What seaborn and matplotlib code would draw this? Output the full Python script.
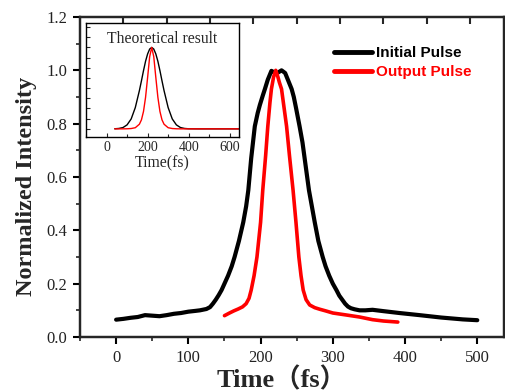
import matplotlib
matplotlib.use("Agg")
import matplotlib.pyplot as plt
import seaborn as sns
import pandas as pd
from matplotlib.ticker import MultipleLocator, FixedLocator
from matplotlib.lines import Line2D

sns.set_theme(style="ticks")
plt.rcParams['font.family'] = ['Liberation Serif', 'Noto Sans CJK SC']

# ---- main data ----
initial_t = [0, 10, 20, 30, 40, 50, 60, 70, 80, 90, 100, 110, 116, 125, 130, 134, 138, 142,
             146, 150, 155, 160, 164, 170, 176, 180, 183, 187, 192, 196, 199, 203, 206, 210,
             215, 222, 229, 234, 237, 240, 243, 246, 249, 254, 258, 261, 264, 267, 271, 275,
             280, 286, 290, 295, 300, 305, 309, 313, 317, 321, 325, 330, 337, 345, 355, 370,
             392, 420, 450, 480, 500]
initial_y = [0.065, 0.068, 0.072, 0.075, 0.082, 0.080, 0.078, 0.082, 0.087, 0.090, 0.095,
             0.098, 0.100, 0.105, 0.112, 0.125, 0.140, 0.157, 0.176, 0.200, 0.230, 0.265,
             0.300, 0.360, 0.430, 0.490, 0.550, 0.670, 0.790, 0.840, 0.870, 0.905, 0.930,
             0.965, 0.998, 0.988, 1.000, 0.990, 0.970, 0.950, 0.930, 0.900, 0.860, 0.790,
             0.730, 0.670, 0.610, 0.550, 0.490, 0.430, 0.360, 0.300, 0.265, 0.230, 0.200,
             0.176, 0.155, 0.140, 0.125, 0.114, 0.108, 0.104, 0.100, 0.100, 0.102, 0.097,
             0.090, 0.082, 0.073, 0.066, 0.063]

output_t = [150, 157, 163, 169, 175, 180, 184, 187, 191, 195, 200, 203, 207, 210, 213, 215,
            218, 221, 224, 226, 229, 232, 236, 240, 245, 249, 253, 256, 259, 263, 268, 275,
            282, 290, 300, 320, 337, 355, 370, 390]
output_y = [0.080, 0.090, 0.098, 0.105, 0.113, 0.125, 0.145, 0.176, 0.230, 0.300, 0.430,
            0.550, 0.680, 0.790, 0.880, 0.930, 0.975, 1.000, 0.975, 0.955, 0.930, 0.870,
            0.790, 0.680, 0.550, 0.430, 0.300, 0.230, 0.176, 0.140, 0.120, 0.110, 0.104,
            0.098, 0.090, 0.082, 0.075, 0.065, 0.060, 0.056]

# ---- inset (theoretical) data ----
theo_t = [40, 60, 80, 100, 120, 140, 160, 170, 180, 190, 200, 210, 220, 230, 240, 250,
          260, 270, 280, 300, 320, 340, 360, 380, 400, 450, 500, 550, 600, 645]
theo_init = [0.001, 0.005, 0.016, 0.049, 0.122, 0.261, 0.470, 0.590, 0.715, 0.830, 0.920,
             0.980, 1.000, 0.980, 0.920, 0.830, 0.715, 0.590, 0.470, 0.261, 0.122, 0.049,
             0.016, 0.005, 0.001, 0.0, 0.0, 0.0, 0.0, 0.0]
theo_out = [0.0, 0.0, 0.0, 0.001, 0.004, 0.014, 0.057, 0.111, 0.214, 0.387, 0.631, 0.886,
            1.000, 0.886, 0.631, 0.387, 0.214, 0.111, 0.057, 0.014, 0.004, 0.001, 0.0,
            0.0, 0.0, 0.0, 0.0, 0.0, 0.0, 0.0]

labels = ["Initial Pulse", "Output Pulse"]
colors = ["black", "red"]

W, H = 505, 392
fig = plt.figure(figsize=(W / 100, H / 100), dpi=100)
ax = fig.add_axes([80 / W, 1 - 337 / H, 424 / W, 320 / H])
ax.set_facecolor("white")

df_main = pd.concat([
    pd.DataFrame({"t": initial_t, "y": initial_y, "s": labels[0]}),
    pd.DataFrame({"t": output_t, "y": output_y, "s": labels[1]}),
])
sns.lineplot(data=df_main, x="t", y="y", hue="s", palette=colors, ax=ax,
             linewidth=3.0, sort=False, legend=False)
ax.lines[1].set_linewidth(2.6)

ax.set_xlim(-50, 537)
ax.set_ylim(0, 1.2)
ax.xaxis.set_major_locator(FixedLocator([0, 100, 200, 300, 400, 500]))
ax.xaxis.set_minor_locator(MultipleLocator(50))
ax.yaxis.set_major_locator(MultipleLocator(0.2))
ax.yaxis.set_minor_locator(MultipleLocator(0.1))
ax.yaxis.set_major_formatter(matplotlib.ticker.FormatStrFormatter("%.1f"))
ax.tick_params(which="major", direction="out", length=5, width=1.5, labelsize=12,
               colors="black", pad=4)
ax.tick_params(which="minor", direction="out", length=3, width=1.2)
for s in ax.spines.values():
    s.set_linewidth(1.6)
    s.set_color("black")
for lab in ax.get_xticklabels() + ax.get_yticklabels():
    lab.set_color("#222222")

ax.set_xlabel("Time（fs）", fontsize=19, fontweight="bold")
ax.set_ylabel("Normalized Intensity", fontsize=17.5, fontweight="bold")
ax.xaxis.set_label_coords(0.475, -0.095)
ax.yaxis.set_label_coords(-0.102, 0.47)

# top ticks (inward)
axt = ax.twiny()
axt.set_xlim(ax.get_xlim())
axt.xaxis.set_major_locator(FixedLocator([10, 70, 130, 190, 250, 310, 370, 430, 490]))
axt.tick_params(axis="x", direction="in", length=5, width=1.5, labeltop=False)
for s in axt.spines.values():
    s.set_linewidth(1.6)

# legend
handles = [Line2D([], [], color=c, lw=3.5) for c in colors]
leg = fig.legend(handles, labels, loc="upper left", bbox_to_anchor=(334 / W, 1 - 46 / H),
                 frameon=False, handlelength=2.5, handletextpad=0.25, labelspacing=0.33,
                 borderpad=0, borderaxespad=0,
                 prop={"family": "Liberation Sans", "weight": "bold", "size": 11})
for txt, c in zip(leg.get_texts(), colors):
    txt.set_color(c)

# inset
axi = fig.add_axes([86 / W, 1 - 137 / H, 153 / W, 114 / H])
df_theo = pd.concat([
    pd.DataFrame({"t": theo_t, "y": theo_init, "s": labels[0]}),
    pd.DataFrame({"t": theo_t, "y": theo_out, "s": labels[1]}),
])
sns.lineplot(data=df_theo, x="t", y="y", hue="s", palette=colors, ax=axi,
             linewidth=1.0, sort=False, legend=False)
axi.set_xlim(-100, 645)
axi.set_ylim(-0.1, 1.3)
axi.xaxis.set_major_locator(FixedLocator([0, 200, 400, 600]))
axi.xaxis.set_minor_locator(MultipleLocator(100))
axi.yaxis.set_major_locator(MultipleLocator(0.125))
axi.tick_params(axis="y", which="major", direction="in", length=3, width=0.8, labelleft=False)
axi.tick_params(axis="x", which="major", direction="in", length=3, width=0.8, labelsize=10, pad=3)
axi.tick_params(axis="x", which="minor", direction="in", length=2, width=0.8)
for s in axi.spines.values():
    s.set_linewidth(1.0)
    s.set_color("black")
axi.set_xlabel("Time(fs)", fontsize=11.3, labelpad=1)
axi.set_ylabel("")
axi.text(0.5, 0.86, "Theoretical result", transform=axi.transAxes, ha="center",
         va="center", fontsize=11.3)

fig.savefig("out.png", dpi=100, facecolor="white")
